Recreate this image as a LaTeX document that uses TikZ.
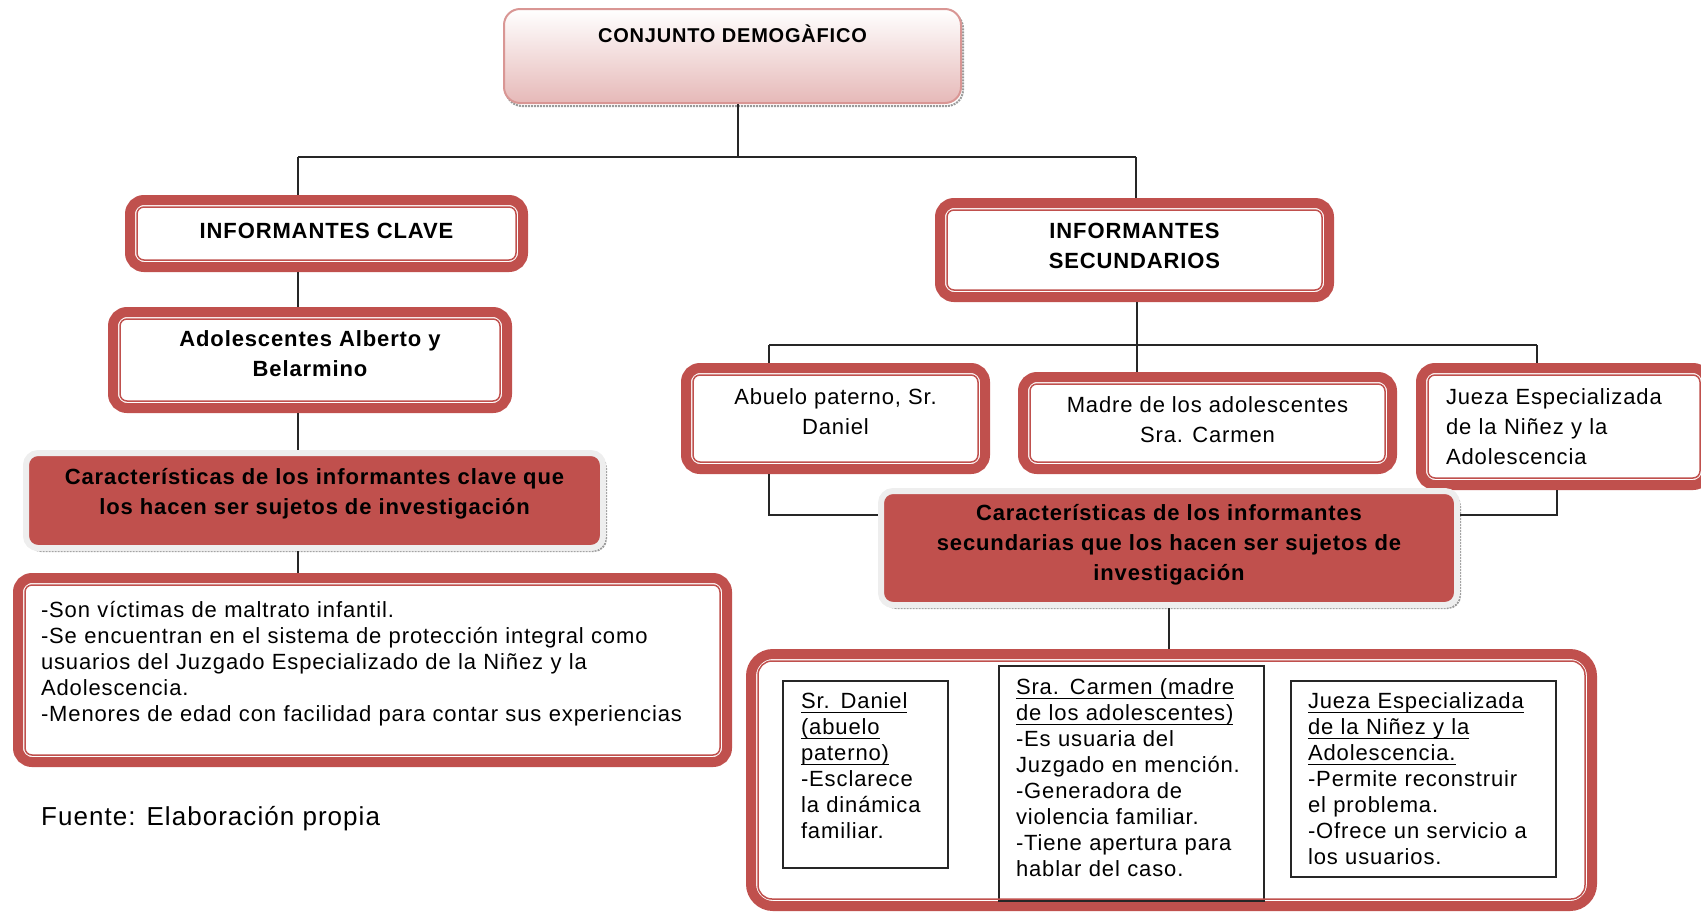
\documentclass[tikz,border=0pt]{standalone}
\usepackage{fontspec}
\setmainfont{Liberation Sans}[LetterSpace=4]
\definecolor{boxred}{HTML}{C0504D}
\definecolor{pinkline}{HTML}{D99694}
\definecolor{pinkfill}{HTML}{E6B9B8}
\definecolor{framegray}{HTML}{EEEEEE}
\definecolor{shadowgray}{HTML}{9A9A9A}
\newcommand\dropd[1]{\rule[-#1]{0pt}{0pt}}
\newcommand\myul[1]{\leavevmode\setbox0\hbox{#1}\rlap{\rule[-4.5pt]{\wd0}{1.3pt}}\box0}
\tikzset{
  conn/.style={draw=black!85, line width=1.5pt},
  redframe/.style={draw=boxred, line width=10pt, rounded corners=14pt, fill=white, inner sep=0pt, align=center},
  innerline/.style={draw=boxred, line width=1.5pt, rounded corners=7pt},
  redfill/.style={fill=boxred, draw=framegray, line width=6pt, rounded corners=12pt, inner sep=0pt, align=center,
    preaction={draw=shadowgray, densely dotted, line width=2pt, transform canvas={xshift=3pt, yshift=-3pt}}},
  topbox/.style={draw=pinkline, line width=2pt, rounded corners=16pt, top color=white, bottom color=pinkfill, inner sep=0pt,
    preaction={draw=shadowgray, densely dotted, line width=2pt, transform canvas={xshift=2pt, yshift=-3pt}}},
  thinbox/.style={draw=black!85, line width=1.5pt, inner ysep=0pt, align=left},
  boldtext/.style={font=\bfseries\fontsize{22}{30}\selectfont},
  normtext/.style={font=\fontsize{22}{30}\selectfont},
  smalltext/.style={font=\fontsize{22}{26}\selectfont},
}
\begin{document}
\begin{tikzpicture}[x=1pt,y=-1pt]
\useasboundingbox (0,0) rectangle (1701,914);
\clip (0,0) rectangle (1701,914);

% top
\node[topbox, font=\bfseries\fontsize{20}{22}\selectfont, minimum width=457pt, minimum height=94pt, text height=33pt, text depth=61pt] (top) at (732.5,56) {CONJUNTO DEMOGÀFICO};

% left branch
\node[redframe, boldtext, minimum width=393pt, minimum height=67pt] (ic) at (326.5,233.5) {INFORMANTES CLAVE\dropd{6pt}};
\node[redframe, boldtext, minimum width=394pt, minimum height=96pt] (ad) at (310,360) {Adolescentes Alberto y\\Belarmino\dropd{12pt}};
\node[redfill, boldtext, minimum width=577pt, minimum height=95pt] (chk) at (314.5,500.5) {Características de los informantes clave que\\los hacen ser sujetos de investigación\dropd{19pt}};
\node[redframe, smalltext, align=left, text width=663pt, minimum width=709pt, minimum height=184pt] (lst) at (372.5,670) {-Son víctimas de maltrato infantil.\\-Se encuentran en el sistema de protección integral como\\usuarios del Juzgado Especializado de la Niñez y la\\Adolescencia.\\-Menores de edad con facilidad para contar sus experiencias\dropd{18pt}};
\node[font=\fontsize{26}{30}\selectfont, anchor=west, inner sep=0pt] (src) at (41,819) {Fuente: Elaboración propia};

% right branch
\node[redframe, boldtext, minimum width=389pt, minimum height=94pt] (is) at (1134.5,250) {INFORMANTES\\SECUNDARIOS\dropd{9pt}};
\node[redframe, normtext, minimum width=299pt, minimum height=101pt] (ab) at (835.5,418.5) {Abuelo paterno, Sr.\\Daniel\dropd{13pt}};
\node[redframe, normtext, minimum width=369pt, minimum height=92pt] (ma) at (1207.5,423) {Madre de los adolescentes\\Sra. Carmen\dropd{6pt}};
\node[redframe, normtext, align=left, text width=236pt, minimum width=286pt, minimum height=117pt] (ju) at (1564,426.5) {Jueza Especializada\\de la Niñez y la\\Adolescencia};
\node[redfill, boldtext, minimum width=576pt, minimum height=114pt] (chs) at (1169,548) {Características de los informantes\\secundarias que los hacen ser sujetos de\\investigación\dropd{12pt}};
\node[redframe, rounded corners=22pt, minimum width=841pt, minimum height=252pt] (big) at (1171.5,780) {};

\node[thinbox, smalltext, text width=129pt, inner xsep=18pt, minimum width=165pt, minimum height=187pt] (d1) at (865.5,774.5) {\myul{Sr. Daniel}\\\myul{(abuelo}\\\myul{paterno)}\\-Esclarece\\la dinámica\\familiar.\dropd{17pt}};
\node[thinbox, smalltext, text width=231pt, inner xsep=17pt, minimum width=265pt, minimum height=235pt] (d2) at (1131.5,783.5) {\myul{Sra. Carmen (madre}\\\myul{de los adolescentes)}\\-Es usuaria del\\Juzgado en mención.\\-Generadora de\\violencia familiar.\\-Tiene apertura para\\hablar del caso.\dropd{12pt}};
\node[thinbox, smalltext, text width=231pt, inner xsep=17pt, minimum width=265pt, minimum height=196pt] (d3) at (1423.5,779) {\myul{Jueza Especializada}\\\myul{de la Niñez y la}\\\myul{Adolescencia.}\\-Permite reconstruir\\el problema.\\-Ofrece un servicio a\\los usuarios.};

% inner thin lines of the double red frames
\foreach \bx in {ic,ad,lst,is,ab,ma,ju}
  \draw[innerline] ([shift={(12,12)}]\bx.north west) rectangle ([shift={(-12,-12)}]\bx.south east);
\draw[innerline, rounded corners=14pt] ([shift={(12,12)}]big.north west) rectangle ([shift={(-12,-12)}]big.south east);

% connectors
\coordinate (j0) at (738,157);
\coordinate (jL) at (298,157);
\coordinate (jR) at (1136,157);
\draw[conn] (top.south -| j0) -- (j0);
\draw[conn] (jL) -- (jR);
\draw[conn] (jL) -- (ic.north -| jL);
\draw[conn] (jR) -- (is.north -| jR);
\draw[conn] (ic.south -| jL) -- (ad.north -| jL);
\draw[conn] (ad.south -| jL) -- (chk.north -| jL);
\draw[conn] (chk.south -| jL) -- (lst.north -| jL);

\coordinate (k0) at (1137,345);
\coordinate (kL) at (769,345);
\coordinate (kR) at (1537,345);
\draw[conn] (is.south -| k0) -- (k0);
\draw[conn] (kL) -- (kR);
\draw[conn] (kL) -- (ab.north -| kL);
\draw[conn] (k0) -- (ma.north -| k0);
\draw[conn] (kR) -- (ju.north -| kR);
\coordinate (m1) at (769,515);
\coordinate (m2) at (1557,515);
\draw[conn] (ab.south -| m1) -- (m1) -- (chs.west |- m1);
\draw[conn] (ju.south -| m2) -- (m2) -- (chs.east |- m2);
\draw[conn] (chs.south) -- (big.north -| chs.south);
\end{tikzpicture}
\end{document}
